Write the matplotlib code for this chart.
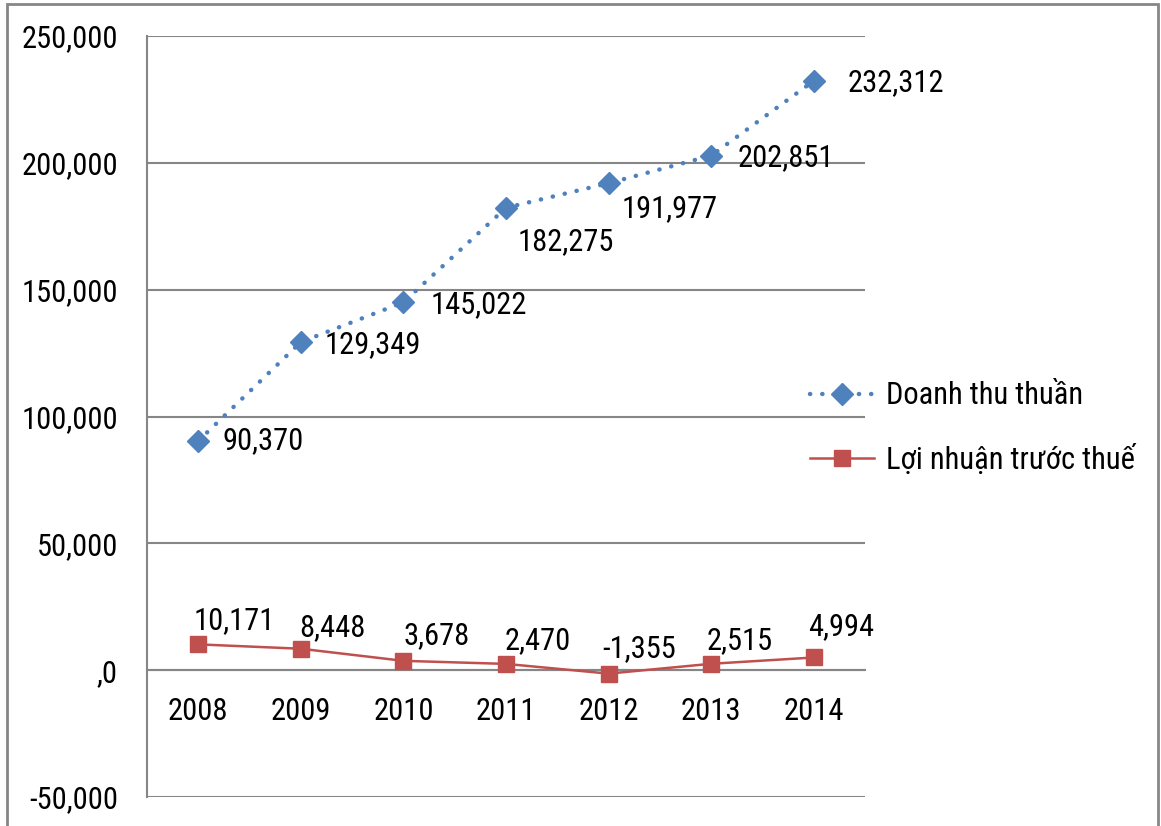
import numpy as np
import matplotlib.pyplot as plt
from matplotlib.ticker import FuncFormatter
from matplotlib.patches import Rectangle

years = ['2008', '2009', '2010', '2011', '2012', '2013', '2014']
doanh_thu = [90370, 129349, 145022, 182275, 191977, 202851, 232312]
loi_nhuan = [10171, 8448, 3678, 2470, -1355, 2515, 4994]

# label offsets in pixels (dx, dy) from each marker
dt_offsets = [(24, 0), (24, -3), (27, -2), (12, -34), (13, -25), (26, -2), (34, -2)]
ln_offsets = [(-5, 24), (-2, 21), (0, 25), (-1, 23), (-6, 25), (-5, 23), (-6, 31)]

plt.rcParams['font.family'] = ['Roboto Condensed', 'Liberation Sans', 'DejaVu Sans']
fs = 22

blue = '#4F81BD'
red = '#C0504D'
grid_c = '#868686'

fig = plt.figure(figsize=(11.61, 8.26), dpi=100)
ax = fig.add_axes([147 / 1161, 29 / 826, (865 - 147) / 1161, (797 - 36) / 826])

x = np.arange(len(years))
ax.plot(x, doanh_thu, color=blue, linewidth=3.2, linestyle=(0, (0.05, 2.7)),
        dash_capstyle='round', marker='D', markersize=11.5, markeredgecolor=blue,
        label='Doanh thu thuần', zorder=3)
ax.plot(x, loi_nhuan, color=red, linewidth=1.8, marker='s', markersize=11.5,
        markeredgecolor=red, label='Lợi nhuận trước thuế', zorder=3)

for xi, v, (dx, dy) in zip(x, doanh_thu, dt_offsets):
    ax.annotate(f'{v:,}', (xi, v), xytext=(dx, dy), textcoords='offset pixels',
                ha='left', va='center', fontsize=fs)
for xi, v, (dx, dy) in zip(x, loi_nhuan, ln_offsets):
    ax.annotate(f'{v:,}', (xi, v), xytext=(dx, dy), textcoords='offset pixels',
                ha='left', va='center', fontsize=fs)

ax.set_xlim(-0.5, len(years) - 0.5)
ax.set_ylim(-50000, 250000)
ax.set_yticks(np.arange(-50000, 250001, 50000))
ax.yaxis.set_major_formatter(FuncFormatter(lambda v, p: ',0' if v == 0 else f'{v:,.0f}'))
ax.set_xticks(x)
ax.set_xticklabels(years)

ax.yaxis.grid(True, color=grid_c, linewidth=1.5)
ax.set_axisbelow(True)
for s in ['top', 'right']:
    ax.spines[s].set_visible(False)
ax.spines['left'].set_color(grid_c)
ax.spines['left'].set_linewidth(1.5)
ax.spines['bottom'].set_position(('data', 0))
ax.spines['bottom'].set_color(grid_c)
ax.spines['bottom'].set_linewidth(1.5)
ax.tick_params(axis='both', labelsize=fs)
ax.tick_params(axis='y', length=0, pad=21)
ax.tick_params(axis='x', length=0, pad=19)

fig.legend(loc='center left', bbox_to_anchor=(810 / 1161, 1 - 428 / 826),
           frameon=False, fontsize=fs, handlelength=2.1, handletextpad=0.4,
           labelspacing=1.1, borderaxespad=0, borderpad=0)

# outer chart border
fig.patches.append(Rectangle((7 / 1161, -0.05), (1158 - 7) / 1161, 1.05 - 4 / 826,
                             transform=fig.transFigure, fill=False,
                             edgecolor=grid_c, linewidth=2))

fig.savefig('out.png', dpi=100)
plt.close(fig)
